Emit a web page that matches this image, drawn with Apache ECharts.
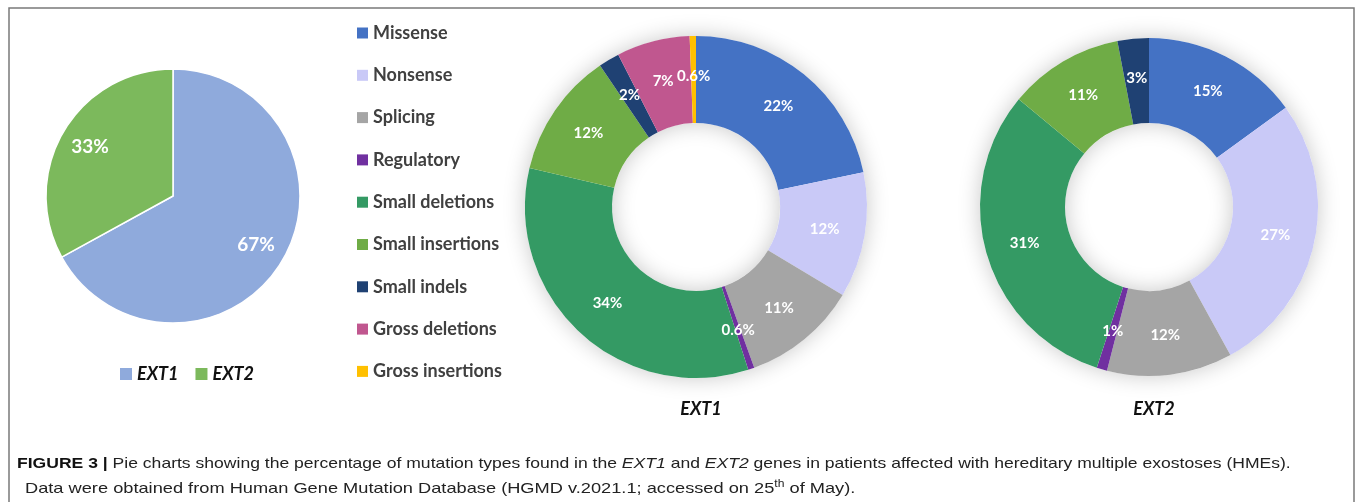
<!DOCTYPE html>
<html>
<head>
<meta charset="utf-8">
<title>EXT1 / EXT2 mutation types</title>
<script src="https://cdn.jsdelivr.net/npm/echarts@6/dist/echarts.min.js"></script>
<style>
  html, body { margin: 0; padding: 0; background: #fff; }
  #chart { width: 1355px; height: 502px; }
</style>
</head>
<body>
<div id="chart"></div>
<script>
// share of mutations per gene
var geneNames = ['EXT1', 'EXT2'];
var geneShare = [67, 33];

// mutation types (percent of each gene's mutations)
var mutationTypes = ['Missense', 'Nonsense', 'Splicing', 'Regulatory', 'Small deletions',
  'Small insertions', 'Small indels', 'Gross deletions', 'Gross insertions'];
var ext1Pct = [22, 12, 11, 0.6, 34, 12, 2, 7, 0.6];
var ext2Pct = [15, 27, 12, 1, 31, 11, 3, 0, 0];

var geneColors = ['#8FAADC', '#7CB95C'];
var typeColors = ['#4472C4', '#C9C9F7', '#A5A5A5', '#7030A0', '#349A64',
  '#6FAC46', '#1F4173', '#C0578F', '#FFC000'];

var FONT = 'Lato, "Open Sans", sans-serif';
var CAP_FONT = '"Liberation Sans", Arial, sans-serif';

function slices(names, values, colors, skipZero) {
  var out = [];
  for (var i = 0; i < names.length; i++) {
    if (skipZero && !values[i]) continue;
    out.push({ name: names[i], value: values[i], itemStyle: { color: colors[i] } });
  }
  return out;
}

var pctLabel = function (p) { return p.value + '%'; };

function donut(name, values, center, radius) {
  return {
    name: name,
    type: 'pie',
    center: center,
    radius: radius,
    startAngle: 90,
    clockwise: true,
    avoidLabelOverlap: false,
    z: 3,
    itemStyle: { borderWidth: 0 },
    label: {
      show: true, position: 'inside', formatter: pctLabel,
      color: '#fff', fontFamily: FONT, fontWeight: 'bold', fontSize: 15
    },
    labelLine: { show: false },
    emphasis: { scale: false },
    data: slices(mutationTypes, values, typeColors, true)
  };
}

// soft grey glow behind each ring
function glow(center, radius) {
  return {
    name: 'glow',
    type: 'pie',
    silent: true,
    center: center,
    radius: radius,
    z: 1,
    label: { show: false },
    labelLine: { show: false },
    itemStyle: { color: '#fff', shadowBlur: 22, shadowColor: 'rgba(0,0,0,0.22)' },
    data: [{ name: 'glow', value: 1 }]
  };
}

var chart = echarts.init(document.getElementById('chart'), null, { renderer: 'canvas' });

chart.setOption({
  backgroundColor: '#fff',
  animation: false,
  title: [
    { text: 'EXT1', left: 696, top: 395, textAlign: 'center',
      textStyle: { fontFamily: FONT, fontSize: 18, fontWeight: 'bold', fontStyle: 'italic', color: '#111' } },
    { text: 'EXT2', left: 1149, top: 395, textAlign: 'center',
      textStyle: { fontFamily: FONT, fontSize: 18, fontWeight: 'bold', fontStyle: 'italic', color: '#111' } }
  ],
  legend: [
    {
      orient: 'horizontal', left: 120, top: 365, padding: 0,
      itemWidth: 12, itemHeight: 12, itemGap: 17,
      icon: 'rect',
      selectedMode: false,
      textStyle: { fontFamily: FONT, fontSize: 18, fontWeight: 'bold', fontStyle: 'italic', color: '#111' },
      data: geneNames.map(function (n, i) { return { name: n, itemStyle: { color: geneColors[i] } }; })
    },
    {
      orient: 'vertical', left: 357, top: 24, padding: 0,
      itemWidth: 11, itemHeight: 11, itemGap: 24.3,
      icon: 'rect',
      textStyle: { fontFamily: FONT, fontSize: 18, lineHeight: 18, fontWeight: 'bold', color: '#404040' },
      data: mutationTypes.map(function (n, i) { return { name: n, itemStyle: { color: typeColors[i] } }; })
    }
  ],
  graphic: [
    { type: 'rect', silent: true, z: 0,
      shape: { x: 9, y: 8, width: 1345, height: 520 },
      style: { fill: null, stroke: '#7a7a7a', lineWidth: 1.5 } },
    { type: 'text', x: 17, y: 464, scaleX: 1.17, z: 5,
      style: {
        text: '{b|FIGURE 3 |} Pie charts showing the percentage of mutation types found in the {i|EXT1} and {i|EXT2} genes in patients affected with hereditary multiple exostoses (HMEs).',
        font: '15px ' + CAP_FONT, fill: '#222', verticalAlign: 'middle',
        rich: {
          b: { fontWeight: 'bold', fontSize: 15, fontFamily: CAP_FONT, fill: '#111' },
          i: { fontStyle: 'italic', fontSize: 15, fontFamily: CAP_FONT, fill: '#222' }
        }
      } },
    { type: 'text', x: 25, y: 489, scaleX: 1.215, z: 5,
      style: {
        text: 'Data were obtained from Human Gene Mutation Database (HGMD v.2021.1; accessed on 25{s|th} of May).',
        font: '15px ' + CAP_FONT, fill: '#222', verticalAlign: 'middle',
        rich: {
          s: { fontSize: 10, verticalAlign: 'top', lineHeight: 20, fontFamily: CAP_FONT, fill: '#222' }
        }
      } }
  ],
  series: [
    {
      name: 'Genes',
      type: 'pie',
      center: [173, 196],
      radius: [0, 127],
      startAngle: 90,
      clockwise: true,
      z: 2,
      itemStyle: { borderColor: '#fff', borderWidth: 1.5 },
      label: { show: false },
      labelLine: { show: false },
      emphasis: { scale: false },
      data: slices(geneNames, geneShare, geneColors, false)
    },
    {
      // transparent copy that only carries the labels further out
      name: 'Genes labels',
      type: 'pie',
      silent: true,
      center: [173, 196],
      radius: [60, 127],
      startAngle: 90,
      clockwise: true,
      z: 3,
      itemStyle: { color: 'rgba(0,0,0,0)' },
      label: {
        show: true, position: 'inside', formatter: pctLabel,
        color: '#fff', fontFamily: FONT, fontWeight: 'bold', fontSize: 19
      },
      labelLine: { show: false },
      data: geneNames.map(function (n, i) { return { name: n, value: geneShare[i], itemStyle: { color: 'rgba(0,0,0,0)' } }; })
    },
    glow([696, 207], [84, 171]),
    donut('EXT1', ext1Pct, [696, 207], [84, 171]),
    glow([1149, 207], [84, 169]),
    donut('EXT2', ext2Pct, [1149, 207], [84, 169])
  ]
});
</script>
</body>
</html>
